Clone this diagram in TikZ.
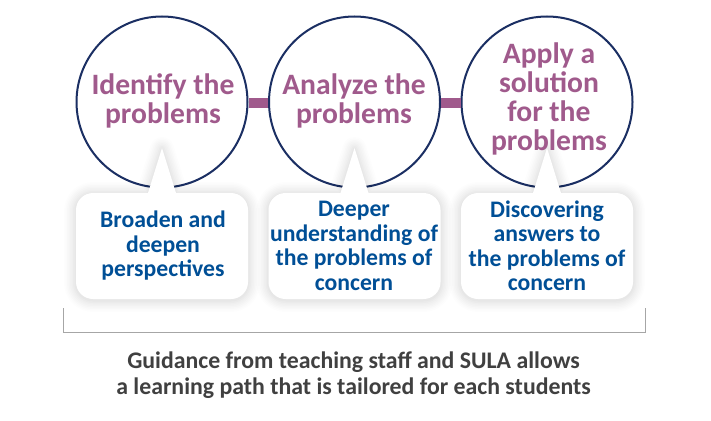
\documentclass[tikz,border=0pt]{standalone}
\usepackage{fontspec}
\setmainfont{Carlito}
\definecolor{plum}{HTML}{A05A8C}
\definecolor{navy}{HTML}{1B2F63}
\definecolor{bluetxt}{HTML}{004F96}
\definecolor{greytxt}{HTML}{404040}
\definecolor{rule}{HTML}{A6A6A6}
\tikzset{
  stage/.style={circle,draw=navy,line width=2pt,fill=white,minimum size=171pt,inner sep=0pt},
  stagetxt/.style={text=plum,font=\bfseries\fontsize{29.6}{29}\selectfont,align=center,inner sep=0pt},
  linkbar/.style={draw=plum,line width=10pt},
  bubbletxt/.style={text=bluetxt,font=\bfseries\fontsize{23.7}{24.5}\selectfont,align=center,inner sep=0pt},
  foot/.style={text=greytxt,font=\bfseries\fontsize{23.8}{26}\selectfont,align=center,inner sep=0pt},
  bracket/.style={draw=rule,line width=0.9pt}
}
% #1 = centre x
\newcommand{\bubblepath}[1]{
  (#1-86,210) .. controls (#1-86,200.6) and (#1-78.4,193) .. (#1-69,193)
  -- (#1-14,193) -- (#1,148) -- (#1+14,193) -- (#1+69,193)
  .. controls (#1+78.4,193) and (#1+86,200.6) .. (#1+86,210)
  -- (#1+86,282) .. controls (#1+86,291.4) and (#1+78.4,299) .. (#1+69,299)
  -- (#1-69,299) .. controls (#1-78.4,299) and (#1-86,291.4) .. (#1-86,282) -- cycle
}
\newcommand{\bubble}[1]{
  \foreach \w/\o in {24/.008,21/.009,18/.010,15/.011,12/.012,9/.013,6/.014,3/.016}{
    \draw[black,line width=\w pt,opacity=\o,line join=round,yshift=-1pt] \bubblepath{#1};
  }
  \fill[white] \bubblepath{#1};
}
\begin{document}
\begin{tikzpicture}[x=1pt,y=-1pt]
\useasboundingbox (0,0) rectangle (711,420);
\fill[white] (0,0) rectangle (711,420);
\node[stage] (c1) at (162,102) {};
\node[stage] (c2) at (354.5,102) {};
\node[stage] (c3) at (547,102) {};
\draw[linkbar] ([yshift=-1pt]c1.east) -- ([yshift=-1pt]c2.west);
\draw[linkbar] ([yshift=-1pt]c2.east) -- ([yshift=-1pt]c3.west);
\bubble{162}
\bubble{354.5}
\bubble{547}
\node[stagetxt] (t1) at (163,101) {Identify the\\[0pt]problems};
\node[stagetxt] (t2) at (354,101) {Analyze the\\[0pt]problems};
\node[stagetxt] (t3) at (549,99) {Apply a\\[0pt]solution\\[0pt]for the\\[0pt]problems};
\node[bubbletxt] (b1) at (163,246) {Broaden and\\deepen\\perspectives};
\node[bubbletxt] (b2) at (354,246) {Deeper\\understanding of\\the problems of\\concern};
\node[bubbletxt] (b3) at (547,246) {Discovering\\answers to\\the problems of\\concern};
\coordinate (bl) at (63,308);
\coordinate (blc) at (63,332);
\coordinate (brc) at (645,332);
\coordinate (br) at (645,308);
\draw[bracket] (bl) -- (blc) -- (brc) -- (br);
\node[foot] (f) at (353.5,375) {Guidance from teaching staff and SULA allows\\a learning path that is tailored for each students};
\end{tikzpicture}
\end{document}
